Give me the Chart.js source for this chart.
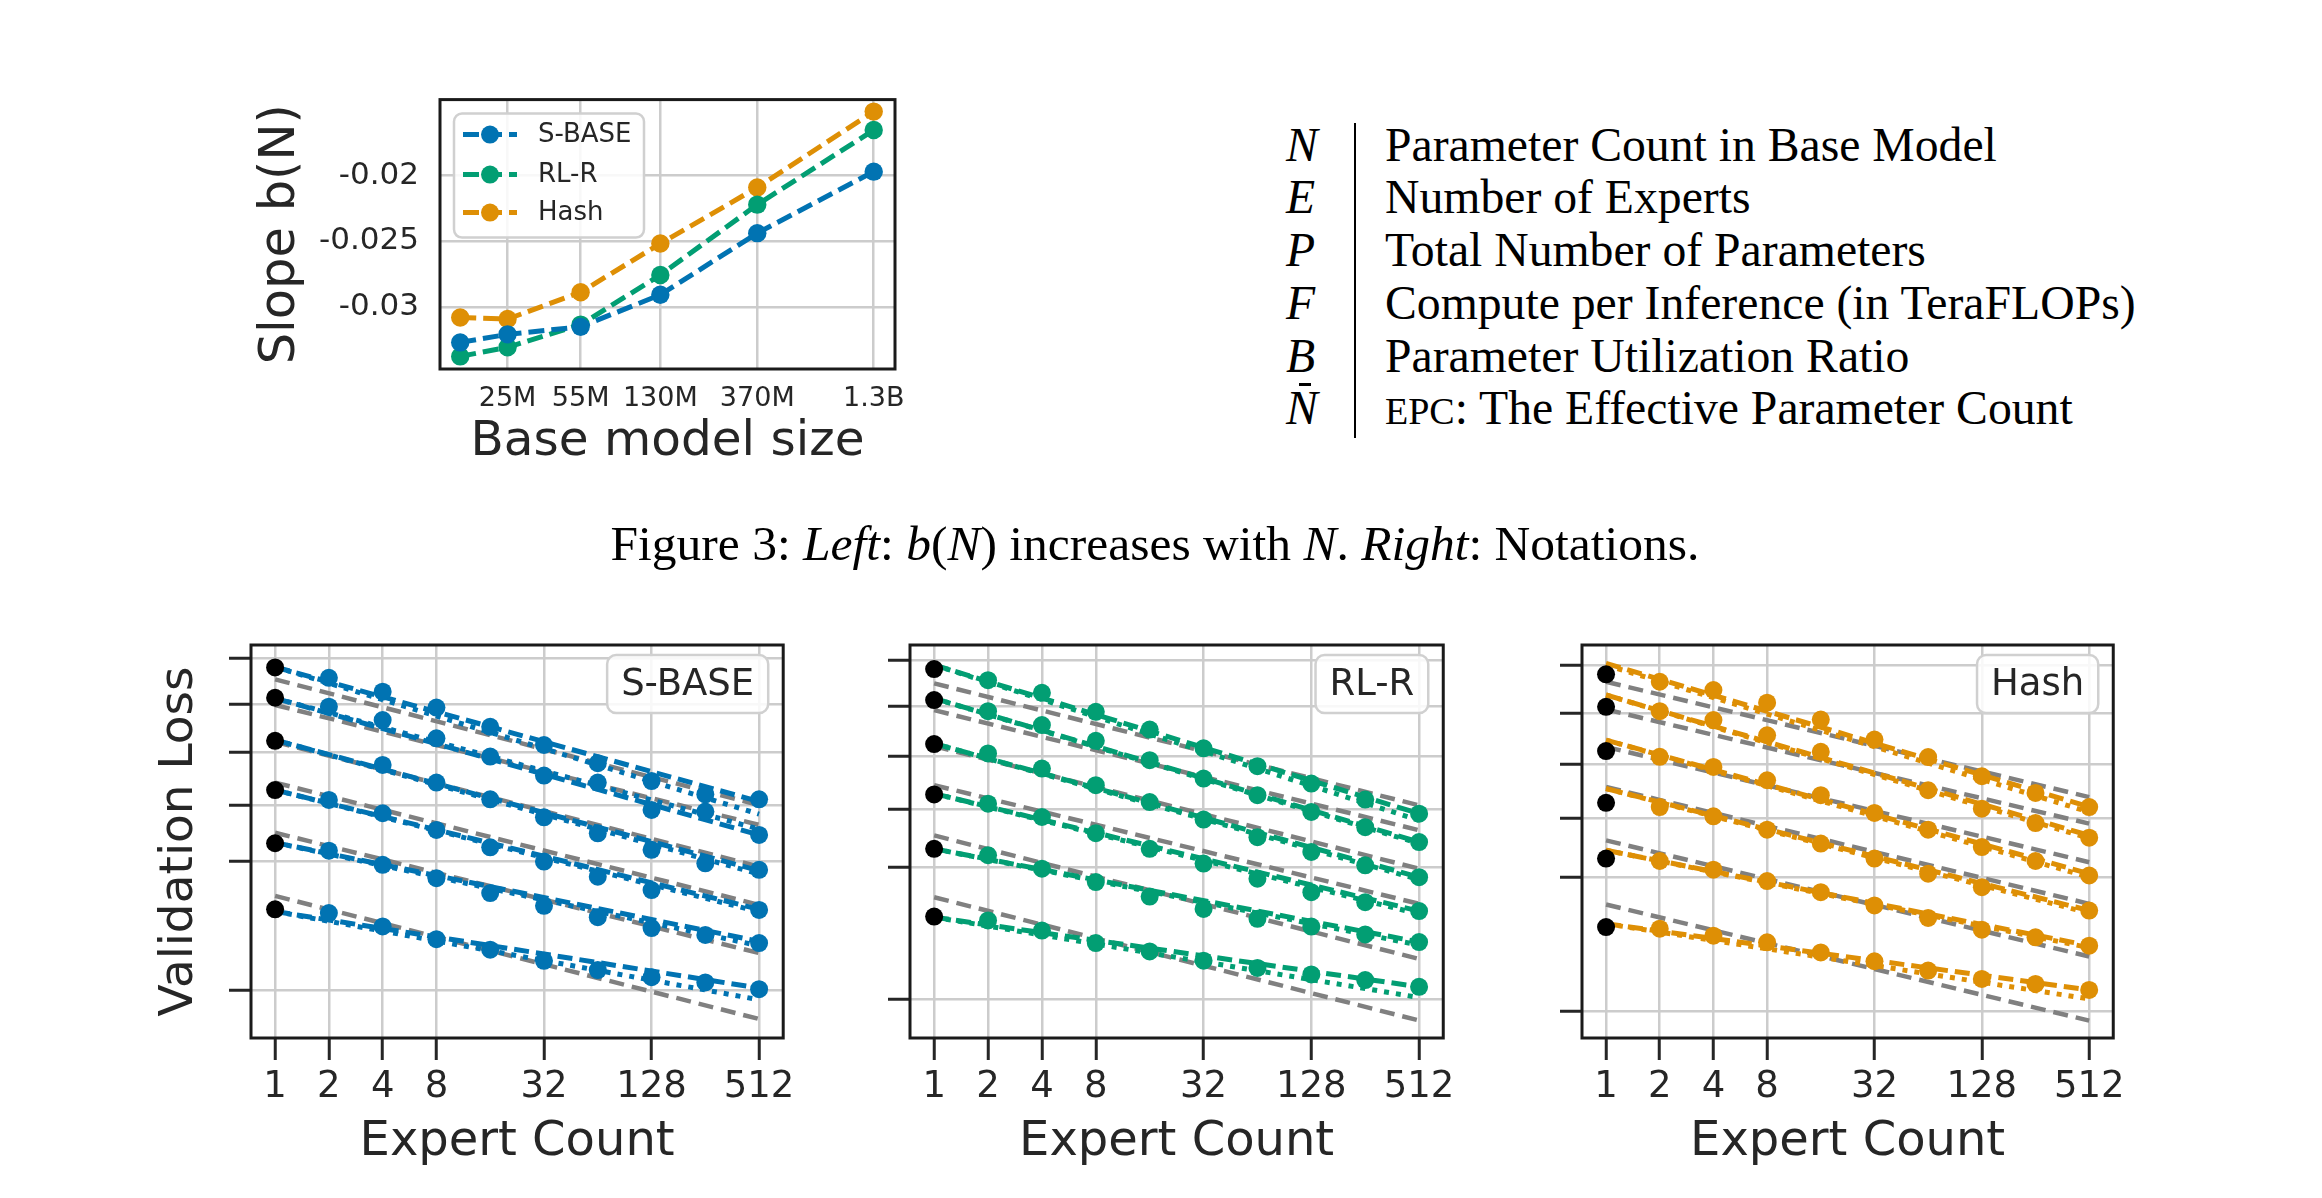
<!DOCTYPE html>
<html>
<head>
<meta charset="utf-8">
<script src="https://cdn.jsdelivr.net/npm/chart.js@4.4.1/dist/chart.umd.min.js"></script>
<style>
  html, body { margin: 0; padding: 0; background: #fff; }
  body { width: 2322px; height: 1198px; position: relative; overflow: hidden; }
  canvas { position: absolute; }
  .tex { position: absolute; font-family: 'Liberation Serif', 'Times New Roman', serif; color: #000;
         white-space: nowrap; font-size: 47.7px; line-height: 53px; }
  .sym { font-style: italic; left: 1286px; }
  .desc { left: 1385px; }
  i { font-style: italic; }
</style>
</head>
<body>
<canvas id="slopeChart" style="left:240px;top:60px" width="680" height="420"></canvas>
<canvas id="sbaseChart" style="left:130px;top:630px" width="670" height="560"></canvas>
<canvas id="rlrChart" style="left:820px;top:630px" width="640" height="560"></canvas>
<canvas id="hashChart" style="left:1490px;top:630px" width="640" height="560"></canvas>

<!-- notation table -->
<div class="tex sym" style="top:117.5px">N</div>
<div class="tex desc" style="top:117.5px">Parameter Count in Base Model</div>
<div class="tex sym" style="top:170px">E</div>
<div class="tex desc" style="top:170px">Number of Experts</div>
<div class="tex sym" style="top:223px">P</div>
<div class="tex desc" style="top:223px">Total Number of Parameters</div>
<div class="tex sym" style="top:276px">F</div>
<div class="tex desc" style="top:276px">Compute per Inference (in TeraFLOPs)</div>
<div class="tex sym" style="top:329px">B</div>
<div class="tex desc" style="top:329px">Parameter Utilization Ratio</div>
<div class="tex sym" style="top:381px">N</div>
<div style="position:absolute;left:1299px;top:383px;width:12px;height:2.5px;background:#000"></div>
<div class="tex desc" style="top:381px"><span style="font-size:38px">EPC</span>: The Effective Parameter Count</div>
<div style="position:absolute;left:1354px;top:123px;width:2px;height:315px;background:#000"></div>

<div class="tex" style="left:0;width:2310px;text-align:center;top:517px;font-size:49.5px">Figure 3: <i>Left</i>: <i>b</i>(<i>N</i>) increases with <i>N</i>. <i>Right</i>: Notations.</div>

<script>
// top chart: slope b(N) vs base model size (millions of params)
const modelSizes = [15, 25, 55, 130, 370, 1300];
const sizeTicks = [25, 55, 130, 370, 1300];
const sizeTickLabels = ['25M', '55M', '130M', '370M', '1.3B'];
const slopeTicks = [-0.03, -0.025, -0.02];
const slopeTickLabels = ['-0.03', '-0.025', '-0.02'];
const slopeSBase = [-0.03265, -0.03204, -0.03147, -0.02904, -0.02437, -0.01971];
const slopeRLR = [-0.03371, -0.03302, -0.03130, -0.02754, -0.02221, -0.01656];
const slopeHash = [-0.03076, -0.03088, -0.02885, -0.02516, -0.02091, -0.01516];

// bottom panels: validation loss vs expert count, one row per base model size
const expertCounts = [1, 2, 4, 8, 16, 32, 64, 128, 256, 512];
const expertTicks = [1, 2, 4, 8, 32, 128, 512];
const lossTicks = [2.0, 2.4, 2.6, 2.8, 3.0, 3.2];

const sbaseLoss = [
  [3.159, 3.113, 3.052, 2.984, 2.904, 2.830, 2.758, 2.689, 2.639, 2.620],
  [3.026, 2.988, 2.932, 2.857, 2.784, 2.710, 2.683, 2.581, 2.575, 2.491],
  [2.847, null, 2.751, 2.683, 2.620, 2.554, 2.497, 2.439, 2.393, 2.371],
  [2.655, 2.618, 2.569, 2.509, 2.448, 2.399, 2.348, 2.304, null, 2.240],
  [2.462, 2.436, 2.388, 2.343, 2.294, 2.253, 2.217, 2.183, 2.162, 2.137],
  [2.242, 2.230, 2.188, 2.149, 2.117, 2.084, 2.057, 2.036, 2.021, 2.002]
];
// fitted lines: [loss at E=1, loss at E=512]
const sbaseDash = [[3.161, 2.612], [3.024, 2.491], [2.850, 2.368], [2.655, 2.242], [2.464, 2.142], [2.235, 2.005]];
const sbaseDot = [[3.161, 2.566], [3.024, 2.512], [2.850, 2.357], [2.655, 2.234], [2.464, 2.129], [2.235, 1.972]];
const sbaseGray = [[3.106, 2.599], [2.995, 2.527], [2.843, 2.382], [2.683, 2.256], [2.499, 2.107], [2.285, 1.919]];

const rlrLoss = [
  [3.160, 3.112, 3.058, 2.978, 2.906, 2.831, 2.762, 2.696, 2.637, 2.586],
  [3.027, 2.981, 2.924, 2.861, 2.785, 2.715, 2.653, 2.592, 2.538, 2.486],
  [2.848, 2.811, 2.753, 2.690, 2.628, 2.565, 2.503, 2.452, 2.407, 2.368],
  [2.656, 2.622, 2.574, 2.517, 2.463, 2.413, 2.363, 2.319, 2.287, 2.259],
  [2.463, 2.441, 2.396, 2.352, 2.305, 2.266, 2.235, 2.211, 2.187, 2.164],
  [2.242, 2.230, 2.199, 2.161, 2.136, 2.109, 2.088, 2.069, 2.053, 2.034]
];
const rlrDash = [[3.178, 2.586], [3.034, 2.486], [2.850, 2.368], [2.659, 2.259], [2.463, 2.164], [2.240, 2.034]];
const rlrDot = [[3.178, 2.562], [3.034, 2.481], [2.850, 2.360], [2.659, 2.250], [2.463, 2.155], [2.240, 2.004]];
const rlrGray = [[3.098, 2.616], [2.985, 2.527], [2.840, 2.396], [2.690, 2.282], [2.509, 2.114], [2.303, 1.941]];

const hashLoss = [
  [3.163, 3.131, 3.096, 3.043, 2.974, 2.894, 2.826, 2.753, 2.691, 2.640],
  [3.026, 3.008, 2.972, 2.911, 2.846, null, 2.701, 2.634, 2.583, 2.532],
  [2.849, 2.827, 2.788, 2.738, 2.683, 2.619, 2.560, 2.500, 2.453, 2.405],
  [2.655, 2.640, 2.607, 2.560, 2.512, 2.461, 2.411, 2.367, null, 2.293],
  [2.461, 2.453, 2.424, 2.387, 2.351, 2.309, 2.270, 2.234, 2.211, 2.186],
  [2.242, 2.237, 2.216, 2.196, 2.166, 2.140, 2.113, 2.089, 2.075, 2.058]
];
const hashDash = [[3.210, 2.641], [3.075, 2.540], [2.892, 2.411], [2.707, 2.293], [2.489, 2.186], [2.252, 2.058]];
const hashDot = [[3.203, 2.622], [3.075, 2.530], [2.892, 2.400], [2.707, 2.285], [2.489, 2.180], [2.252, 2.033]];
const hashGray = [[3.131, 2.676], [3.015, 2.581], [2.865, 2.449], [2.713, 2.314], [2.523, 2.154], [2.312, 1.974]];

const BLUE = '#0173b2', GREEN = '#029e73', ORANGE = '#de8f05', GRAY = '#808080';
const TEXT = '#262626';
const FONT = 'DejaVu Sans';

Chart.defaults.font.family = FONT;
Chart.defaults.color = TEXT;

// black box round the plot area
const framePlugin = {
  id: 'frame',
  afterDatasetsDraw(chart) {
    const { ctx, chartArea: a } = chart;
    ctx.save();
    ctx.strokeStyle = '#1a1a1a';
    ctx.lineWidth = 3;
    ctx.strokeRect(a.left, a.top, a.right - a.left, a.bottom - a.top);
    ctx.restore();
  }
};

function roundBox(ctx, x, y, w, h, r) {
  ctx.beginPath();
  ctx.moveTo(x + r, y);
  ctx.arcTo(x + w, y, x + w, y + h, r);
  ctx.arcTo(x + w, y + h, x, y + h, r);
  ctx.arcTo(x, y + h, x, y, r);
  ctx.arcTo(x, y, x + w, y, r);
  ctx.closePath();
  ctx.fillStyle = 'rgba(255,255,255,0.85)';
  ctx.fill();
  ctx.strokeStyle = '#d0d0d0';
  ctx.lineWidth = 2.5;
  ctx.stroke();
}

// title box in the upper right corner of each panel
function panelLabel(text) {
  return {
    id: 'panelLabel',
    afterDraw(chart) {
      const { ctx, chartArea: a } = chart;
      ctx.save();
      ctx.font = '37px ' + FONT;
      const w = ctx.measureText(text).width + 28;
      const x = a.right - 15 - w, y = a.top + 10;
      roundBox(ctx, x, y, w, 58, 9);
      ctx.fillStyle = TEXT;
      ctx.textBaseline = 'middle';
      ctx.fillText(text, x + 14, y + 30);
      ctx.restore();
    }
  };
}

// legend of the slope chart
const slopeLegend = {
  id: 'slopeLegend',
  afterDraw(chart) {
    const { ctx, chartArea: a } = chart;
    ctx.save();
    roundBox(ctx, a.left + 14, a.top + 14, 190, 124, 8);
    const rows = [35, 75, 113];
    chart.data.datasets.forEach((ds, i) => {
      const y = a.top + rows[i];
      ctx.strokeStyle = ds.borderColor;
      ctx.lineWidth = 5;
      ctx.setLineDash([16, 7]);
      ctx.beginPath();
      ctx.moveTo(a.left + 23, y);
      ctx.lineTo(a.left + 77, y);
      ctx.stroke();
      ctx.setLineDash([]);
      ctx.fillStyle = ds.borderColor;
      ctx.beginPath();
      ctx.arc(a.left + 50, y, 9, 0, Math.PI * 2);
      ctx.fill();
      ctx.fillStyle = TEXT;
      ctx.font = '26px ' + FONT;
      ctx.textBaseline = 'middle';
      ctx.fillText(ds.label, a.left + 98, y + 1);
    });
    ctx.restore();
  }
};

function slopeSet(label, values, color) {
  return {
    label: label,
    data: modelSizes.map((m, i) => ({ x: m, y: values[i] })),
    borderColor: color,
    backgroundColor: color,
    borderWidth: 5,
    borderDash: [16, 7],
    pointRadius: 9.2,
    pointBackgroundColor: color,
    pointBorderWidth: 0,
    tension: 0
  };
}

new Chart(document.getElementById('slopeChart'), {
  type: 'line',
  data: {
    datasets: [
      slopeSet('S-BASE', slopeSBase, BLUE),
      slopeSet('RL-R', slopeRLR, GREEN),
      slopeSet('Hash', slopeHash, ORANGE)
    ]
  },
  options: {
    responsive: false,
    animation: false,
    devicePixelRatio: 1,
    events: [],
    layout: { padding: { top: 32, right: 25, left: 0, bottom: 0 } },
    plugins: { legend: { display: false }, tooltip: { enabled: false } },
    scales: {
      x: {
        type: 'logarithmic',
        min: 12.06, max: 1635.7, bounds: 'data',
        afterBuildTicks: s => { s.ticks = sizeTicks.map(v => ({ value: v })); },
        afterFit: s => { s.height = 111; },
        ticks: {
          callback: (v, i) => sizeTickLabels[i],
          font: { size: 27 }, color: TEXT, padding: 14,
          autoSkip: false, maxRotation: 0, minRotation: 0
        },
        grid: { color: '#cccccc', lineWidth: 2.5, drawTicks: false },
        border: { display: false },
        title: { display: true, text: 'Base model size', font: { size: 48.5 }, color: TEXT,
                 padding: { top: 0, bottom: 8 } }
      },
      y: {
        type: 'linear',
        min: -0.034665, max: -0.014252, bounds: 'data',
        afterBuildTicks: s => { s.ticks = slopeTicks.map(v => ({ value: v })); },
        afterFit: s => { s.width = 200; },
        ticks: {
          callback: (v, i) => slopeTickLabels[i],
          font: { size: 31 }, color: TEXT, padding: 21
        },
        grid: { color: '#cccccc', lineWidth: 2.5, drawTicks: false },
        border: { display: false },
        title: { display: true, text: 'Slope b(N)', font: { size: 49.5 }, color: TEXT,
                 padding: { top: 11, bottom: 0 } }
      }
    }
  },
  plugins: [framePlugin, slopeLegend]
});

function panelDatasets(loss, dash, dot, gray, color) {
  const sets = [];
  const first = expertCounts[0], last = expertCounts[expertCounts.length - 1];
  loss.forEach((row, i) => {
    sets.push({
      data: [{ x: first, y: gray[i][0] }, { x: last, y: gray[i][1] }],
      borderColor: GRAY, borderWidth: 4.5, borderDash: [15, 8], pointRadius: 0, order: 3
    });
    sets.push({
      data: [{ x: first, y: dot[i][0] }, { x: last, y: dot[i][1] }],
      borderColor: color, borderWidth: 5, borderDash: [5, 7], pointRadius: 0, order: 2
    });
    sets.push({
      data: [{ x: first, y: dash[i][0] }, { x: last, y: dash[i][1] }],
      borderColor: color, borderWidth: 5, borderDash: [15, 7], pointRadius: 0, order: 1
    });
    const pts = [], cols = [];
    row.forEach((v, j) => {
      if (v === null) return;
      pts.push({ x: expertCounts[j], y: v });
      cols.push(j === 0 ? '#000000' : color);
    });
    sets.push({
      data: pts, showLine: false, pointRadius: 9,
      pointBackgroundColor: cols, pointBorderWidth: 0, borderColor: color, order: 0
    });
  });
  return sets;
}

function panelChart(id, label, sets, yMin, yMax, axisWidth, padRight, showTitle) {
  new Chart(document.getElementById(id), {
    type: 'line',
    data: { datasets: sets },
    options: {
      responsive: false,
      animation: false,
      devicePixelRatio: 1,
      events: [],
      layout: { padding: { top: 15, right: padRight, left: 0, bottom: 0 } },
      plugins: { legend: { display: false }, tooltip: { enabled: false } },
      scales: {
        x: {
          type: 'logarithmic',
          min: 0.733, max: 698.6, bounds: 'data',
          afterBuildTicks: s => { s.ticks = expertTicks.map(v => ({ value: v })); },
          afterFit: s => { s.height = 152; },
          ticks: {
            callback: (v, i) => String(expertTicks[i]),
            font: { size: 37 }, color: TEXT, padding: 5,
            autoSkip: false, maxRotation: 0, minRotation: 0
          },
          grid: { color: '#cccccc', lineWidth: 2.5, drawTicks: true, tickLength: 22,
                  tickColor: TEXT, tickWidth: 3 },
          border: { display: false },
          title: { display: true, text: 'Expert Count', font: { size: 48 }, color: TEXT,
                   padding: { top: 0, bottom: 19 } }
        },
        y: {
          type: 'logarithmic',
          min: yMin, max: yMax, bounds: 'data',
          afterBuildTicks: s => { s.ticks = lossTicks.map(v => ({ value: v })); },
          afterFit: s => { s.width = axisWidth; },
          ticks: { callback: () => '', padding: 0 },
          grid: { color: '#cccccc', lineWidth: 2.5, drawTicks: true, tickLength: 22,
                  tickColor: TEXT, tickWidth: 3 },
          border: { display: false },
          title: { display: showTitle, text: 'Validation Loss', font: { size: 47 }, color: TEXT,
                   padding: { top: 22, bottom: 0 } }
        }
      }
    },
    plugins: [framePlugin, panelLabel(label)]
  });
}

panelChart('sbaseChart', 'S-BASE', panelDatasets(sbaseLoss, sbaseDash, sbaseDot, sbaseGray, BLUE),
           1.868, 3.261, 121, 13, true);
panelChart('rlrChart', 'RL-R', panelDatasets(rlrLoss, rlrDash, rlrDot, rlrGray, GREEN),
           1.8945, 3.2674, 90, 13, false);
panelChart('hashChart', 'Hash', panelDatasets(hashLoss, hashDash, hashDot, hashGray, ORANGE),
           1.9277, 3.2916, 92, 11, false);
</script>
</body>
</html>
